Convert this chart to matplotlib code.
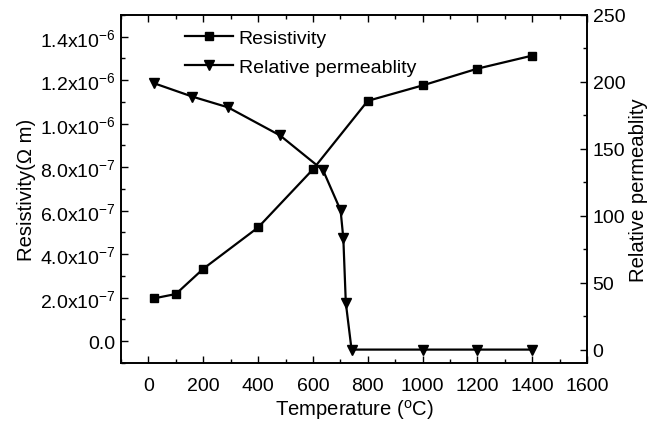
import matplotlib
matplotlib.use("Agg")
import matplotlib.pyplot as plt
from matplotlib.ticker import MultipleLocator, FixedLocator, FixedFormatter

plt.rcParams['font.family'] = ['Liberation Sans', 'DejaVu Sans']
plt.rcParams['mathtext.fontset'] = 'custom'
plt.rcParams['mathtext.rm'] = 'Liberation Sans'
plt.rcParams['mathtext.it'] = 'Liberation Sans:italic'

# Data
temp_res = [20, 100, 200, 400, 600, 800, 1000, 1200, 1400]
resistivity = [1.97e-7, 2.17e-7, 3.33e-7, 5.23e-7, 7.9e-7, 1.105e-6, 1.176e-6, 1.253e-6, 1.313e-6]
temp_perm = [20, 160, 290, 480, 637, 701, 711, 720, 741, 1000, 1200, 1400]
permeability = [199, 189, 181, 160, 134, 104, 83, 35, 0, 0, 0, 0]

left_ticks = [0.0, 2e-7, 4e-7, 6e-7, 8e-7, 1.0e-6, 1.2e-6, 1.4e-6]
left_labels = ['0.0', '2.0x10$^{-7}$', '4.0x10$^{-7}$', '6.0x10$^{-7}$', '8.0x10$^{-7}$',
               '1.0x10$^{-6}$', '1.2x10$^{-6}$', '1.4x10$^{-6}$']
x_ticks = [0, 200, 400, 600, 800, 1000, 1200, 1400, 1600]
right_ticks = [0, 50, 100, 150, 200, 250]

fs = 14
lfs = 14.6
fig = plt.figure(figsize=(6.49, 4.31), dpi=100)
ax = fig.add_axes([0.1865, 0.1555, 0.718, 0.8075])
ax2 = ax.twinx()

l1, = ax.plot(temp_res, resistivity, color='black', lw=1.6, marker='s', ms=5.5, label='Resistivity')
l2, = ax2.plot(temp_perm, permeability, color='black', lw=1.6, marker='v', ms=7, label='Relative permeablity')

ax.set_xlim(-100, 1600)
ax.set_ylim(-1e-7, 1.5e-6)
ax2.set_ylim(-10, 250)

ax.xaxis.set_major_locator(FixedLocator(x_ticks))
ax.xaxis.set_minor_locator(MultipleLocator(100))
ax.yaxis.set_major_locator(FixedLocator(left_ticks))
ax.yaxis.set_major_formatter(FixedFormatter(left_labels))
ax.yaxis.set_minor_locator(MultipleLocator(1e-7))
ax2.yaxis.set_major_locator(FixedLocator(right_ticks))
ax2.yaxis.set_minor_locator(MultipleLocator(25))

ax.tick_params(axis='x', which='both', direction='in', top=True, labelsize=fs, pad=10)
ax.tick_params(axis='y', which='both', direction='in', labelsize=fs, pad=4)
ax.tick_params(which='major', length=5, width=1)
ax.tick_params(which='minor', length=3, width=1)
ax2.tick_params(axis='y', which='both', direction='in', labelsize=fs, pad=4)
ax2.tick_params(which='major', length=5, width=1)
ax2.tick_params(which='minor', length=3, width=1)

for a in (ax, ax2):
    for s in a.spines.values():
        s.set_linewidth(1.2)

ax.set_xlabel('Temperature ($^{\\rm o}$C)', fontsize=lfs, labelpad=2)
ax.set_ylabel('Resistivity(Ω m)', fontsize=lfs, labelpad=3)
ax2.set_ylabel('Relative permeablity', fontsize=lfs, labelpad=3)

ax.legend([l1, l2], ['Resistivity', 'Relative permeablity'], loc='upper left',
          bbox_to_anchor=(0.1, 1.008), frameon=False, fontsize=fs,
          handlelength=2.45, handletextpad=0.3, labelspacing=0.55)

fig.savefig('out.png', dpi=100)
